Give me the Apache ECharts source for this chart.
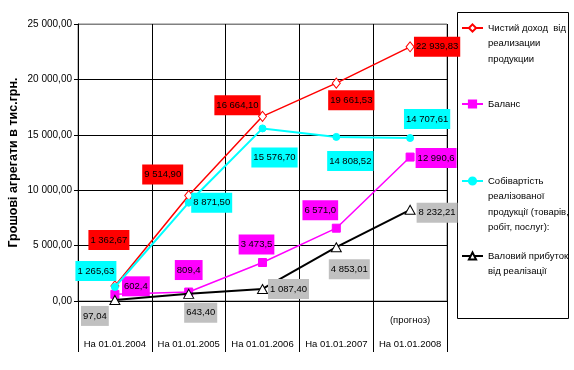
<!DOCTYPE html>
<html><head><meta charset="utf-8">
<script src="https://cdn.jsdelivr.net/npm/echarts@6/dist/echarts.min.js"></script>
<style>html,body{margin:0;padding:0;background:#fff}#c{width:574px;height:370px}</style>
</head><body><div id="c"></div>
<script>
// ---- data ----
const categories = ['На 01.01.2004', 'На 01.01.2005', 'На 01.01.2006', 'На 01.01.2007', 'На 01.01.2008'];
const categoryNotes = ['', '', '', '', '(прогноз)'];
const seriesNames = [
  'Чистий доход  від реализации продукции',
  'Баланс',
  'Собівартість реалізованої продукції (товарів, робіт, послуг):',
  'Валовий прибуток від реалізації'
];
const legendLines = [
  ['Чистий доход  від', 'реализации', 'продукции'],
  ['Баланс'],
  ['Собівартість', 'реалізованої', 'продукції (товарів,', 'робіт, послуг):'],
  ['Валовий прибуток', 'від реалізації']
];
const netIncome   = [1362.67, 9514.90, 16664.10, 19661.53, 22939.83];
const balance     = [602.4, 809.4, 3473.5, 6571.0, 12990.6];
const costOfSales = [1265.63, 8871.50, 15576.70, 14808.52, 14707.61];
const grossProfit = [97.04, 643.40, 1087.40, 4853.01, 8232.21];
const valueDecimals = [2, 1, 2, 2];
const yMin = 0, yMax = 25000, yStep = 5000;
const yAxisTitle = 'Грошові агрегати в тис.грн.';

// ---- layout / style ----
const FONT = "'Liberation Sans', Arial, sans-serif";
const labelOffsets = [
  [[-6, -46], [-26, -21], [-25, -11], [15, 17], [27, 0]],
  [[21, -8], [0, -22], [-6, -18], [-16, -18], [26, 1]],
  [[-19, -16], [23, 0], [12, 29], [14, 24], [17, -19]],
  [[-20, 16], [12, 19], [26, 0], [13, 22], [27, 3]]
];
const legendFirstLineY = [28, 104, 181, 256];
const LH = 15.5;

function fmt(v, d) {
  const s = Number(v).toFixed(d);
  let parts = s.split('.');
  const i = parts[0].replace(/\B(?=(\d{3})+(?!\d))/g, ' ');
  return parts[1] ? i + ',' + parts[1] : i;
}

const seriesData = [netIncome, balance, costOfSales, grossProfit];
const styles = [
  { line: '#FF0000', lw: 1.5, symbol: 'diamond', size: [8, 10], fill: '#FFFFFF', border: '#FF0000', bg: '#FF0000' },
  { line: '#FF00FF', lw: 1.5, symbol: 'rect', size: 8, fill: '#FF00FF', border: '#FF00FF', bg: '#FF00FF' },
  { line: '#00FFFF', lw: 2, symbol: 'circle', size: 7, fill: '#00FFFF', border: '#00FFFF', bg: '#00FFFF' },
  { line: '#000000', lw: 2, symbol: 'triangle', size: [10, 9], fill: '#FFFFFF', border: '#000000', bg: '#C0C0C0' }
];

const series = seriesData.map((arr, si) => ({
  name: seriesNames[si],
  type: 'line',
  data: arr.map((v, i) => ({ value: v, label: { offset: labelOffsets[si][i] } })),
  symbol: styles[si].symbol,
  symbolSize: styles[si].size,
  showAllSymbol: true,
  lineStyle: { color: styles[si].line, width: styles[si].lw },
  itemStyle: { color: styles[si].fill, borderColor: styles[si].border, borderWidth: 1 },
  label: {
    show: true,
    position: 'inside',
    formatter: p => fmt(p.value, valueDecimals[si]),
    backgroundColor: styles[si].bg,
    color: '#000',
    fontFamily: FONT,
    fontSize: 9.5,
    lineHeight: 12,
    padding: [4, 2, 4, 2]
  },
  emphasis: { disabled: true },
  z: 2 + si
}));

const legends = seriesNames.map((n, si) => {
  const lines = legendLines[si];
  const blanks = lines.length - 1;
  return {
    data: [n],
    orient: 'vertical',
    left: 461,
    top: legendFirstLineY[si] - (blanks + 0.5) * LH,
    padding: 0,
    itemWidth: 21,
    itemHeight: 9,
    selectedMode: false,
    formatter: () => '\n'.repeat(blanks) + lines.join('\n'),
    textStyle: { fontFamily: FONT, fontSize: 9.5, lineHeight: LH, color: '#000' }
  };
});

const chart = echarts.init(document.getElementById('c'), null, { renderer: 'canvas' });
chart.setOption({
  animation: false,
  backgroundColor: '#FFFFFF',
  grid: { left: 78, right: 127, top: 24, bottom: 69, show: true, borderColor: '#808080', borderWidth: 1,
          containLabel: false, outerBoundsMode: 'none' },
  legend: legends,
  graphic: [{
    type: 'rect', shape: { x: 457.5, y: 12.5, width: 111, height: 306 },
    style: { fill: 'none', stroke: '#000', lineWidth: 1 }, z: 0, silent: true
  }],
  xAxis: {
    type: 'category',
    data: categories,
    boundaryGap: true,
    axisLine: { lineStyle: { color: '#000', width: 1 } },
    axisTick: { show: true, interval: 0, length: 51, lineStyle: { color: '#000' } },
    splitLine: { show: true, interval: 0, lineStyle: { color: '#000' } },
    axisLabel: {
      interval: 0, margin: 7, hideOverlap: false,
      formatter: (v, i) => '{n|' + (categoryNotes[i] || ' ') + '}\n{c|' + v + '}',
      rich: {
        n: { fontFamily: FONT, fontSize: 9.5, lineHeight: 24, color: '#000' },
        c: { fontFamily: FONT, fontSize: 9.5, lineHeight: 24, color: '#000' }
      }
    }
  },
  yAxis: {
    type: 'value', min: yMin, max: yMax, interval: yStep,
    axisLine: { show: true, lineStyle: { color: '#000' } },
    axisTick: { show: true, length: 4, lineStyle: { color: '#000' } },
    splitLine: { show: true, lineStyle: { color: ['#000', '#000', '#000', '#000', '#000', '#808080'] } },
    axisLabel: { formatter: v => fmt(v, 2), margin: 6, fontFamily: FONT, fontSize: 10, color: '#000' },
    name: yAxisTitle,
    nameLocation: 'middle',
    nameGap: 58,
    nameRotate: 90,
    nameMoveOverlap: false,
    nameTextStyle: { fontFamily: FONT, fontWeight: 'bold', fontSize: 12.5, color: '#000' }
  },
  series: series
});
</script></body></html>
